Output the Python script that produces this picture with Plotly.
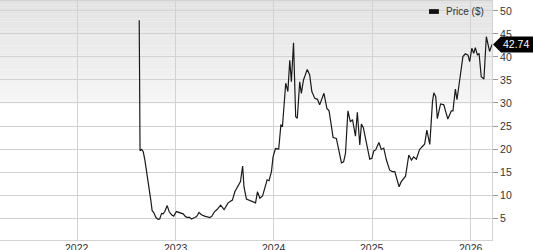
import plotly.graph_objects as go

dates = [
    "2022-08-19", "2022-08-22", "2022-08-28", "2022-09-03", "2022-09-09", "2022-09-21",
    "2022-10-01", "2022-10-06", "2022-10-12", "2022-10-20", "2022-10-28", "2022-11-03",
    "2022-11-10", "2022-11-16", "2022-11-22", "2022-12-01", "2022-12-08", "2022-12-17",
    "2022-12-25", "2023-01-04", "2023-01-14", "2023-01-29", "2023-02-07", "2023-02-15",
    "2023-02-21", "2023-03-01", "2023-03-13", "2023-03-20", "2023-03-29", "2023-04-07",
    "2023-04-19", "2023-04-29", "2023-05-08", "2023-05-16", "2023-05-26", "2023-06-05",
    "2023-06-17", "2023-06-24", "2023-06-30", "2023-07-15", "2023-07-31", "2023-08-09",
    "2023-08-21", "2023-08-30", "2023-09-07", "2023-09-12", "2023-09-21", "2023-10-04",
    "2023-10-16", "2023-10-25", "2023-11-01", "2023-11-10", "2023-11-20", "2023-11-28",
    "2023-12-07", "2023-12-14", "2023-12-23", "2023-12-29", "2024-01-07", "2024-01-19",
    "2024-01-27", "2024-02-02", "2024-02-08", "2024-02-14", "2024-02-22", "2024-02-29",
    "2024-03-06", "2024-03-14", "2024-03-22", "2024-03-28", "2024-04-06", "2024-04-12",
    "2024-04-20", "2024-05-04", "2024-05-13", "2024-05-21", "2024-06-01", "2024-06-11",
    "2024-06-19", "2024-07-05", "2024-07-16", "2024-07-24", "2024-08-08", "2024-08-20",
    "2024-09-08", "2024-09-16", "2024-09-23", "2024-10-02", "2024-10-11", "2024-10-19",
    "2024-10-30", "2024-11-06", "2024-11-15", "2024-11-21", "2024-11-28", "2024-12-10",
    "2024-12-22", "2024-12-30", "2025-01-06", "2025-01-13", "2025-01-25", "2025-02-03",
    "2025-02-12", "2025-02-22", "2025-03-06", "2025-03-16", "2025-03-25", "2025-04-10",
    "2025-04-18", "2025-05-04", "2025-05-16", "2025-05-26", "2025-06-03", "2025-06-13",
    "2025-06-25", "2025-07-08", "2025-07-14", "2025-07-22", "2025-08-02", "2025-08-12",
    "2025-08-17", "2025-08-24", "2025-08-30", "2025-09-11", "2025-09-23", "2025-10-08",
    "2025-10-21", "2025-10-27", "2025-11-05", "2025-11-11", "2025-11-21", "2025-12-03",
    "2025-12-12", "2025-12-22", "2025-12-28", "2026-01-05", "2026-01-12", "2026-01-18",
    "2026-01-26", "2026-02-01", "2026-02-09", "2026-02-19", "2026-02-28", "2026-03-09",
    "2026-03-12", "2026-03-21",
]

prices = [
    48.0, 19.6, 19.9, 19.4, 17.6, 13.3,
    8.9, 6.6, 6.2, 5.1, 4.7, 4.8,
    6.0, 5.9, 6.4, 7.7, 6.4, 5.7,
    5.4, 6.4, 6.2, 5.9, 5.3, 5.1,
    5.2, 4.8, 5.1, 5.3, 6.2, 5.7,
    5.4, 5.3, 5.1, 5.4, 6.4, 6.9,
    7.8, 7.3, 6.8, 8.3, 8.9, 10.7,
    12.0, 12.9, 16.3, 11.8, 9.1, 8.8,
    8.5, 8.3, 10.7, 9.3, 9.8, 11.5,
    13.3, 13.1, 15.1, 18.3, 20.1, 20.0,
    25.2, 25.0, 29.2, 34.3, 32.5, 39.3,
    34.6, 43.1, 27.0, 26.7, 34.6, 32.1,
    35.0, 37.3, 36.1, 32.5, 31.0, 30.8,
    29.6, 32.1, 28.8, 28.3, 22.5, 22.3,
    17.0, 17.2, 19.1, 28.3, 25.9, 26.4,
    22.8, 28.0, 20.9, 25.4, 24.7, 20.9,
    17.8, 18.0, 19.6, 19.8, 21.4, 19.9,
    20.2, 17.6, 15.4, 15.1, 15.1, 11.8,
    12.9, 14.1, 18.7, 17.6, 18.3, 17.8,
    19.9, 20.7, 21.1, 24.1, 21.0, 30.3,
    32.2, 31.4, 26.6, 29.8, 29.6, 26.5,
    28.3, 28.3, 33.0, 30.7, 35.0, 40.1,
    40.7, 40.4, 39.0, 41.9, 40.8, 42.0,
    40.4, 40.8, 35.7, 35.2, 44.4, 42.4,
    41.2, 42.74,
]

year_ticks = ["2022-01-01", "2023-01-01", "2024-01-01", "2025-01-01", "2026-01-01"]
year_labels = ["2022", "2023", "2024", "2025", "2026"]
price_ticks = [5, 10, 15, 20, 25, 30, 35, 40, 45, 50]
series_name = "Price ($)"
last_label = "42.74"

FONT = "Liberation Sans, Arial, sans-serif"
GRID = "#d2d2d2"

fig = go.Figure()
fig.add_trace(go.Scatter(
    x=dates, y=prices, mode="lines",
    line=dict(color="#1a1a1a", width=1.2),
    showlegend=False, hoverinfo="skip",
))

shapes = []
# gradient background at top of plot area
n = 30
top, bottom = 1.0, 0.57
c0, c1 = 0xE2, 0xF6
for i in range(n):
    y1 = top - (top - bottom) * i / n
    y0 = top - (top - bottom) * (i + 1) / n
    v = int(round(c0 + (c1 - c0) * (i + 0.5) / n))
    col = "#%02x%02x%02x" % (v, v, v)
    shapes.append(dict(type="rect", xref="paper", yref="paper", x0=0, x1=1, y0=y0, y1=y1,
                       fillcolor=col, line=dict(width=0), layer="below"))

# legend swatch
shapes.append(dict(type="rect", xref="paper", yref="paper", x0=0.872, x1=0.892,
                   y0=0.946, y1=0.966, fillcolor="#111111", line=dict(width=0)))
# last value tag
shapes.append(dict(type="path", xref="paper", yref="y", xsizemode="pixel", ysizemode="pixel",
                   xanchor=1, yanchor=prices[-1],
                   path="M1,0 L9,8 L42,8 L42,-8 L9,-8 Z",
                   fillcolor="#000000", line=dict(width=0)))

annotations = [
    dict(x=0.902, y=0.956, xref="paper", yref="paper", text=series_name, showarrow=False,
         xanchor="left", yanchor="middle", font=dict(family=FONT, size=10, color="#333333")),
    dict(x=1, y=prices[-1], xref="paper", yref="y", text=last_label, showarrow=False,
         xanchor="left", yanchor="middle", xshift=9,
         font=dict(family=FONT, size=10.5, color="#ffffff")),
]
for tv, tl in zip(year_ticks, year_labels):
    annotations.append(dict(x=tv, y=0, xref="x", yref="paper", text=tl, showarrow=False,
                            xanchor="center", yanchor="top", yshift=0,
                            font=dict(family=FONT, size=10.5, color="#333333")))

fig.update_layout(
    width=533, height=250,
    margin=dict(l=0, r=41, t=1, b=10, autoexpand=False),
    paper_bgcolor="white", plot_bgcolor="white",
    shapes=shapes, annotations=annotations,
    font=dict(family=FONT, size=10, color="#333333"),
    xaxis=dict(
        type="date", range=["2021-03-20", "2026-03-21"],
        tickvals=year_ticks, showticklabels=False,
        showgrid=True, gridcolor=GRID, gridwidth=1,
        showline=True, linecolor=GRID, mirror=True,
        ticks="", zeroline=False, automargin=False,
    ),
    yaxis=dict(
        side="right", range=[0.22, 52.17],
        tickvals=price_ticks,
        showgrid=True, gridcolor=GRID, gridwidth=1,
        showline=True, linecolor=GRID, mirror=True,
        ticks="outside", ticklen=5, tickcolor="#999999",
        zeroline=False, automargin=False,
        tickfont=dict(family=FONT, size=10.5, color="#333333"),
    ),
)

fig.write_html("out.html")
